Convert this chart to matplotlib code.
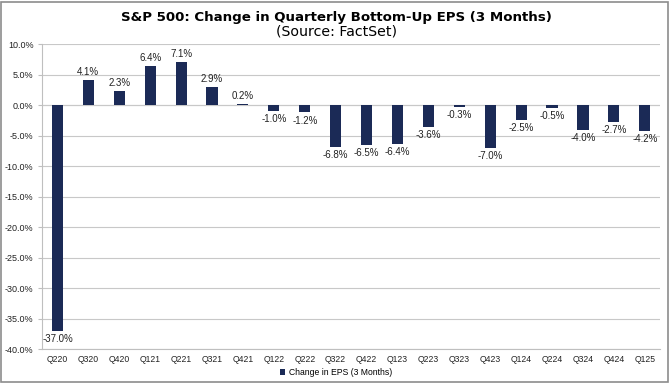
import matplotlib
matplotlib.use("Agg")
import matplotlib.pyplot as plt
from matplotlib.patches import Rectangle
from matplotlib.ticker import FuncFormatter, MultipleLocator

quarters = ["Q220", "Q320", "Q420", "Q121", "Q221", "Q321", "Q421", "Q122", "Q222", "Q322",
            "Q422", "Q123", "Q223", "Q323", "Q423", "Q124", "Q224", "Q324", "Q424", "Q125"]
eps_change = [-37.0, 4.1, 2.3, 6.4, 7.1, 2.9, 0.2, -1.0, -1.2, -6.8,
              -6.5, -6.4, -3.6, -0.3, -7.0, -2.5, -0.5, -4.0, -2.7, -4.2]

plt.rcParams['font.family'] = ['Liberation Sans', 'DejaVu Sans']

fig = plt.figure(figsize=(6.72, 3.84), dpi=100)
ax = fig.add_axes([0.0625, 0.091, 0.92, 0.794])

x = list(range(len(quarters)))
color = "#1b2a56"
bars = ax.bar(x, eps_change, width=0.36, color=color, label="Change in EPS (3 Months)", zorder=3)

for xi, v in zip(x, eps_change):
    if v >= 0:
        ax.text(xi, v + 0.5, f"{v:.1f}%", ha="center", va="bottom", fontsize=7.0, color="#222222")
    else:
        ax.text(xi, v - 0.5, f"{v:.1f}%", ha="center", va="top", fontsize=7.0, color="#222222")

ax.set_xlim(-0.5, len(quarters) - 0.5)
ax.set_ylim(-40, 10)
ax.yaxis.set_major_locator(MultipleLocator(5))
ax.yaxis.set_major_formatter(FuncFormatter(lambda v, p: f"{v:.1f}%"))
ax.set_xticks(x)
ax.set_xticklabels(quarters)
ax.tick_params(axis='x', labelsize=6.2, length=0, colors="#222222", pad=4)
ax.tick_params(axis='y', labelsize=6.5, length=3, color="#bfbfbf", labelcolor="#222222", pad=3)
ax.grid(axis='y', color="#c8c8c8", linewidth=0.8, zorder=0)
for s in ["top", "right"]:
    ax.spines[s].set_visible(False)
ax.spines["left"].set_color("#bfbfbf")
ax.spines["bottom"].set_color("#bfbfbf")
ax.axhline(0, color="#bfbfbf", linewidth=0.8, zorder=1)

fig.text(0.5, 0.955, "S&P 500: Change in Quarterly Bottom-Up EPS (3 Months)", ha="center", va="center",
         fontsize=9.6, fontweight="bold", family="DejaVu Sans")
fig.text(0.5, 0.918, "(Source: FactSet)", ha="center", va="center", fontsize=10.2, family="DejaVu Sans")

fig.legend(handles=[bars], loc="center", bbox_to_anchor=(0.5, 0.03), frameon=False, fontsize=6.2,
           handlelength=0.6, handleheight=0.6, handletextpad=0.4)

fig.patches.append(Rectangle((0.002, 0.005), 0.992, 0.99, transform=fig.transFigure, fill=False,
                             edgecolor="#8c8c8c", linewidth=1.2))

fig.savefig("out.png", dpi=100)
